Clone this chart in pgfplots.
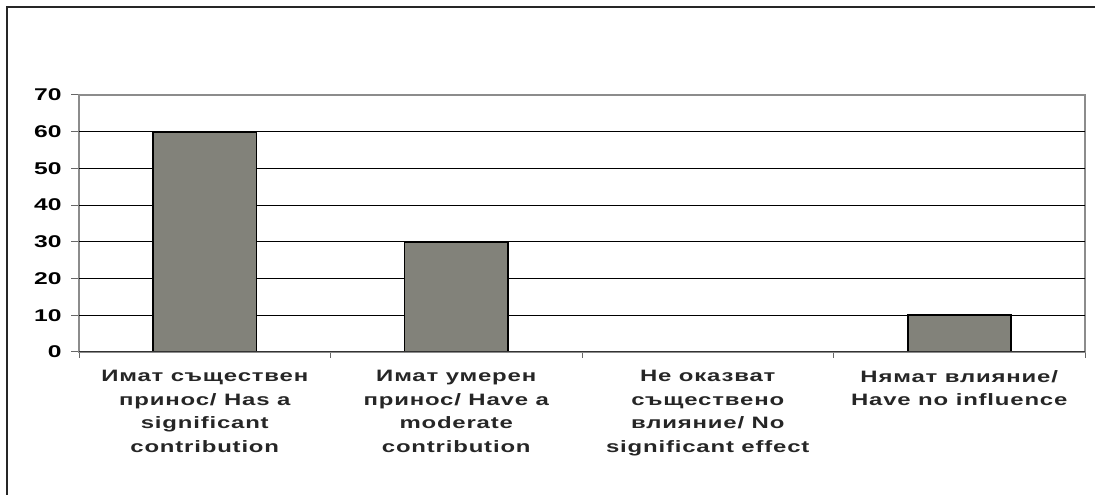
\documentclass[border=0pt]{standalone}
\usepackage{fontspec}
\setmainfont{Liberation Sans}[FakeStretch=1.45]
\usepackage{pgfplots}
\pgfplotsset{compat=1.18}
\definecolor{barfill}{RGB}{130,130,122}
\begin{document}
\begin{tikzpicture}[x=1bp,y=1bp]
\useasboundingbox (0,0) rectangle (1095,495);
\draw[line width=1.6bp, black!85] (7,-30) -- (7,488) -- (1120,488);
\begin{axis}[
  at={(79bp,143bp)}, anchor=south west,
  scale only axis, width=1006bp, height=257bp,
  xmin=-0.5, xmax=3.5, ymin=0, ymax=70,
  ytick={0,10,...,70},
  xtick={0,1,2,3},
  xticklabels={{Имат съществен\\принос/ Has a\\significant\\contribution},
               {Имат умерен\\принос/ Have a\\moderate\\contribution},
               {Не оказват\\съществено\\влияние/ No\\significant effect},
               {Нямат влияние/\\Have no influence}},
  xticklabel style={align=center, anchor=north, text=black!85,
     font=\fontsize{16.5bp}{23.5bp}\selectfont\bfseries\addfontfeature{LetterSpace=5}, yshift=-7bp},
  yticklabel style={text=black, font=\fontsize{17bp}{18bp}\selectfont\bfseries, xshift=-6bp},
  /pgf/number format/assume math mode=true,
  major x tick style={draw=none},
  minor xtick={-0.5,0.5,1.5,2.5,3.5},
  minor tick length=6bp,
  major tick length=8bp,
  tick align=outside,
  tick pos=left,
  tick style={black!60, line width=1bp},
  axis line style={black!45, line width=1.3bp},
  extra y ticks={10,20,...,60},
  extra y tick labels={},
  extra y tick style={grid=major, major tick length=0pt},
  major grid style={black, line width=0.9bp},
  bar width=0.41,
  ybar,
]
\addplot[fill=barfill, draw=black, line width=1.6bp] coordinates {(0,60) (1,30) (2,0) (3,10)};
\draw[black!80, line width=1.3bp] (rel axis cs:0,0) -- (rel axis cs:1,0);
\end{axis}
\end{tikzpicture}
\end{document}
